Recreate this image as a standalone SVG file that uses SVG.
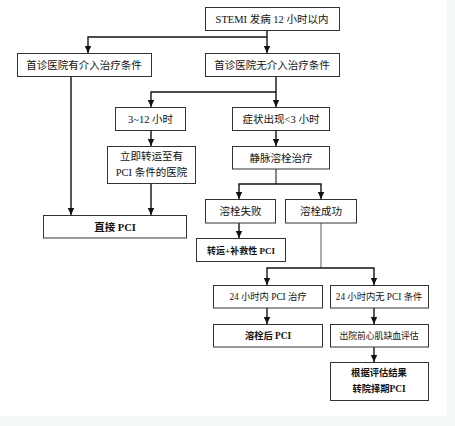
<svg xmlns="http://www.w3.org/2000/svg" width="455" height="426" viewBox="0 0 455 426">
<style>
.box{fill:#fff;stroke:#333;stroke-width:1}
.t{font-family:"Liberation Serif","Noto Sans CJK SC",serif;font-size:10.5px;fill:#111;text-anchor:middle}
.b{font-weight:bold}
.s{font-size:9.3px}
.c{fill:none;stroke:#111;stroke-width:1.4}
.thin{stroke:#555;stroke-width:1}
</style>
<defs>
<marker id="ah" markerUnits="userSpaceOnUse" markerWidth="8" markerHeight="8" refX="7" refY="4" orient="auto">
<path d="M0,0.8 L7,4 L0,7.2 Z" fill="#111"/>
</marker>
</defs>
<rect x="0" y="0" width="455" height="426" fill="#fff"/>
<rect x="447" y="0" width="8" height="426" fill="#f2f9f4"/>
<rect x="0" y="416" width="455" height="10" fill="#f2f9f4"/>
<g id="connectors">
<path class="c" d="M267,30 V53" marker-end="url(#ah)"/>
<path class="c" d="M267,37 H88 V53" marker-end="url(#ah)"/>
<path class="c" d="M71,77 V215" marker-end="url(#ah)"/>
<path class="c" d="M276,77 V107" marker-end="url(#ah)"/>
<path class="c" d="M276,92 H151 V107" marker-end="url(#ah)"/>
<path class="c" d="M151,131 V146" marker-end="url(#ah)"/>
<path class="c" d="M276,131 V146" marker-end="url(#ah)"/>
<path class="c" d="M151,184 V215" marker-end="url(#ah)"/>
<path class="c" d="M276,169 V184" style="stroke-width:1"/>
<path class="c" d="M276,184 H239 V199" marker-end="url(#ah)"/>
<path class="c" d="M276,184 H321 V199" marker-end="url(#ah)"/>
<path class="c" d="M239,223 V238" marker-end="url(#ah)"/>
<path class="c thin" d="M321,223 V268"/>
<path class="c" d="M321,268 H267 V285" marker-end="url(#ah)"/>
<path class="c" d="M321,268 H374 V285" marker-end="url(#ah)"/>
<path class="c" d="M267,308 V324" marker-end="url(#ah)"/>
<path class="c" d="M374,308 V324" marker-end="url(#ah)"/>
<path class="c" d="M374,347 V362" marker-end="url(#ah)"/>
</g>
<g id="n1"><rect class="box" x="205.5" y="7.5" width="134" height="23"/><text class="t" x="272" y="22.5">STEMI 发病 12 小时以内</text></g>
<g id="n2"><rect class="box" x="17.5" y="53.5" width="134" height="23"/><text class="t" x="84" y="69">首诊医院有介入治疗条件</text></g>
<g id="n3"><rect class="box" x="205.5" y="53.5" width="134" height="23"/><text class="t" x="272" y="69">首诊医院无介入治疗条件</text></g>
<g id="n4"><rect class="box" x="115.5" y="107.5" width="70" height="23"/><text class="t" x="150.5" y="123">3~12 小时</text></g>
<g id="n5"><rect class="box" x="232.5" y="107.5" width="97" height="23"/><text class="t" x="281" y="123">症状出现&lt;3 小时</text></g>
<g id="n6"><rect class="box" x="107.5" y="146.5" width="88" height="37"/><text class="t" x="151.5" y="160">立即转运至有</text><text class="t" x="151.5" y="176">PCI 条件的医院</text></g>
<g id="n7"><rect class="box" x="232.5" y="146.5" width="97" height="22.5"/><text class="t" x="281" y="161.5">静脉溶栓治疗</text></g>
<g id="n8"><rect class="box" x="205.5" y="199.5" width="70" height="23.5"/><text class="t" x="240.5" y="215">溶栓失败</text></g>
<g id="n9"><rect class="box" x="285.5" y="199.5" width="71" height="23.5"/><text class="t" x="321" y="215">溶栓成功</text></g>
<g id="n10"><rect class="box" x="43.5" y="215.5" width="143" height="22.5"/><text class="t b" x="115" y="230.5">直接 PCI</text></g>
<g id="n11"><rect class="box" x="196.5" y="238.5" width="89" height="23"/><text class="t b" x="241" y="253.5" style="font-size:9px">转运+补救性 PCI</text></g>
<g id="n12"><rect class="box" x="213.5" y="285.5" width="109" height="22.5"/><text class="t s" x="268" y="300">24 小时内 PCI 治疗</text></g>
<g id="n13"><rect class="box" x="330.5" y="285.5" width="98" height="22.5"/><text class="t s" x="379" y="300">24 小时内无 PCI 条件</text></g>
<g id="n14"><rect class="box" x="213.5" y="324.5" width="109" height="22.5"/><text class="t b s" x="268" y="339">溶栓后 PCI</text></g>
<g id="n15"><rect class="box" x="330.5" y="324.5" width="98" height="22.5"/><text class="t" x="379" y="339" style="font-size:8.8px">出院前心肌缺血评估</text></g>
<g id="n16"><rect class="box" x="330.5" y="362.5" width="98" height="38"/><text class="t b s" x="379" y="376">根据评估结果</text><text class="t b s" x="379" y="392">转院择期PCI</text></g>
</svg>
